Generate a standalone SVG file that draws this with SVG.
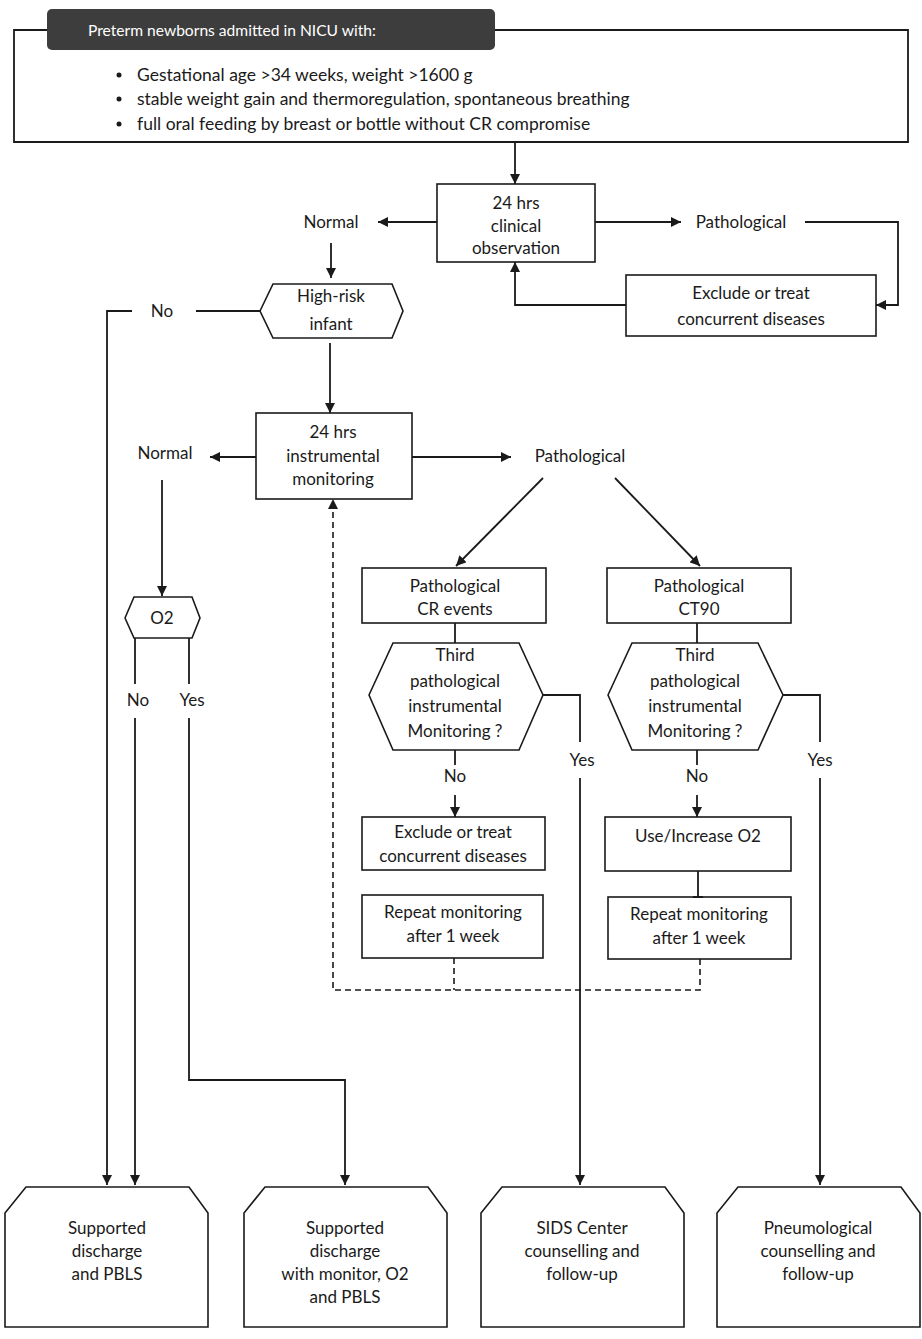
<svg xmlns="http://www.w3.org/2000/svg" width="922" height="1339" viewBox="0 0 922 1339">
<style>
text{font-family:Lato,"Liberation Sans",sans-serif;font-size:17px;fill:#1a1a1a;text-anchor:middle}
.b{fill:#fff;stroke:#1a1a1a;stroke-width:1.6}
.c{fill:none;stroke:#1a1a1a;stroke-width:1.8}
.d{fill:none;stroke:#1a1a1a;stroke-width:1.6;stroke-dasharray:6,4}
.l{text-anchor:start}
.u{font-size:17.5px}
</style>
<defs>
<marker id="a" viewBox="0 0 10 10" refX="10" refY="5" markerWidth="10" markerHeight="10" markerUnits="userSpaceOnUse" orient="auto"><path d="M0,0L10,5L0,10z" fill="#1a1a1a"/></marker>
</defs>
<rect width="922" height="1339" fill="#fff"/>
<g id="top">
<path class="c" d="M47,30H14V142H908V30H495"/>
<rect x="47" y="9" width="448" height="41" rx="5" fill="#3d3d3d"/>
<text x="88" y="36" class="l" style="fill:#fff;font-size:15.6px">Preterm newborns admitted in NICU with:</text>
<circle cx="119" cy="75" r="2.5" fill="#1a1a1a"/><circle cx="119" cy="99" r="2.5" fill="#1a1a1a"/><circle cx="119" cy="124" r="2.5" fill="#1a1a1a"/>
<text x="137" y="81" class="l u">Gestational age &gt;34 weeks, weight &gt;1600 g</text>
<text x="137" y="105" class="l u">stable weight gain and thermoregulation, spontaneous breathing</text>
<text x="137" y="130" class="l u">full oral feeding by breast or bottle without CR compromise</text>
</g>
<g id="clin"><rect class="b" x="437" y="184" width="158" height="78"/>
<text x="516" y="209">24 hrs</text><text x="516" y="232">clinical</text><text x="516" y="254">observation</text></g>
<g id="norm1"><text x="331" y="228">Normal</text></g>
<g id="path1"><text x="741" y="228">Pathological</text></g>
<g id="excl1"><rect class="b" x="626" y="275" width="250" height="61"/>
<text x="751" y="299">Exclude or treat</text><text x="751" y="325">concurrent diseases</text></g>
<g id="hr"><path class="b" d="M260,311L273,284H392L403,311L392,338H273Z"/>
<text x="331" y="302">High-risk</text><text x="331" y="330">infant</text></g>
<g id="no1"><text x="162" y="317">No</text></g>
<g id="inst"><rect class="b" x="256" y="413" width="156" height="86"/>
<text x="333" y="438">24 hrs</text><text x="333" y="462">instrumental</text><text x="333" y="485">monitoring</text></g>
<g id="norm2"><text x="165" y="459">Normal</text></g>
<g id="path2"><text x="580" y="462">Pathological</text></g>
<g id="o2"><path class="b" d="M125,618L134,597H192L200,618L192,638H134Z"/><text x="162" y="624">O2</text></g>
<g id="no2"><text x="138" y="706">No</text></g>
<g id="yes2"><text x="192" y="706">Yes</text></g>
<g id="cr"><rect class="b" x="362" y="568" width="184" height="55"/>
<text x="455" y="592">Pathological</text><text x="455" y="615">CR events</text></g>
<g id="ct"><rect class="b" x="607" y="568" width="184" height="55"/>
<text x="699" y="592">Pathological</text><text x="699" y="615">CT90</text></g>
<g id="hx1"><path class="b" d="M369,695L393,643H519L543,695L519,750H393Z"/>
<text x="455" y="661">Third</text><text x="455" y="687">pathological</text><text x="455" y="712">instrumental</text><text x="455" y="737">Monitoring ?</text></g>
<g id="hx2"><path class="b" d="M608,695L632,643H758L783,695L758,750H632Z"/>
<text x="695" y="661">Third</text><text x="695" y="687">pathological</text><text x="695" y="712">instrumental</text><text x="695" y="737">Monitoring ?</text></g>
<g id="no3"><text x="455" y="782">No</text></g>
<g id="no4"><text x="697" y="782">No</text></g>
<g id="yes3"><text x="582" y="766">Yes</text></g>
<g id="yes4"><text x="820" y="766">Yes</text></g>
<g id="excl2"><rect class="b" x="362" y="817" width="183" height="53"/>
<text x="453" y="838">Exclude or treat</text><text x="453" y="862">concurrent diseases</text></g>
<g id="rep1"><rect class="b" x="362" y="895" width="181" height="63"/>
<text x="453" y="918">Repeat monitoring</text><text x="453" y="942">after 1 week</text></g>
<g id="useo2"><rect class="b" x="605" y="817" width="186" height="54"/>
<text x="698" y="842">Use/Increase O2</text></g>
<g id="rep2"><rect class="b" x="608" y="897" width="183" height="62"/>
<text x="699" y="920">Repeat monitoring</text><text x="699" y="944">after 1 week</text></g>
<g id="out1"><path class="b" d="M5,1213L26,1187H189L208,1213V1327H5Z"/>
<text x="107" y="1234">Supported</text><text x="107" y="1257">discharge</text><text x="107" y="1280">and PBLS</text></g>
<g id="out2"><path class="b" d="M244,1213L265,1187H428L447,1213V1327H244Z"/>
<text x="345" y="1234">Supported</text><text x="345" y="1257">discharge</text><text x="345" y="1280">with monitor, O2</text><text x="345" y="1303">and PBLS</text></g>
<g id="out3"><path class="b" d="M481,1213L502,1187H665L684,1213V1327H481Z"/>
<text x="582" y="1234">SIDS Center</text><text x="582" y="1257">counselling and</text><text x="582" y="1280">follow-up</text></g>
<g id="out4"><path class="b" d="M717,1213L738,1187H901L920,1213V1327H717Z"/>
<text x="818" y="1234">Pneumological</text><text x="818" y="1257">counselling and</text><text x="818" y="1280">follow-up</text></g>
<g id="connectors">
<path class="c" marker-end="url(#a)" d="M515,143V184"/>
<path class="c" marker-end="url(#a)" d="M437,222H378"/>
<path class="c" marker-end="url(#a)" d="M595,222H681"/>
<path class="c" marker-end="url(#a)" d="M805,222H898V305H876"/>
<path class="c" marker-end="url(#a)" d="M626,305H515V262"/>
<path class="c" marker-end="url(#a)" d="M331,243V278"/>
<path class="c" d="M196,311H260"/>
<path class="c" marker-end="url(#a)" d="M132,311H107V1185"/>
<path class="c" marker-end="url(#a)" d="M330,343V413"/>
<path class="c" marker-end="url(#a)" d="M256,457H210"/>
<path class="c" marker-end="url(#a)" d="M412,457H511"/>
<path class="c" marker-end="url(#a)" d="M162,480V596"/>
<path class="c" marker-end="url(#a)" d="M543,478L456,566"/>
<path class="c" marker-end="url(#a)" d="M615,478L700,566"/>
<path class="c" d="M135,638V684"/>
<path class="c" marker-end="url(#a)" d="M135,718V1185"/>
<path class="c" d="M189,638V684"/>
<path class="c" marker-end="url(#a)" d="M189,718V1080H345V1185"/>
<path class="c" d="M455,623V643"/>
<path class="c" d="M697,623V643"/>
<path class="c" d="M455,750V765"/>
<path class="c" d="M697,750V765"/>
<path class="c" marker-end="url(#a)" d="M455,795V817"/>
<path class="c" marker-end="url(#a)" d="M697,795V817"/>
<path class="c" d="M543,695H580V742"/>
<path class="c" marker-end="url(#a)" d="M580,778V1185"/>
<path class="c" d="M783,695H820V742"/>
<path class="c" marker-end="url(#a)" d="M820,778V1185"/>
<path class="c" d="M698,871V897M693,897H703"/>
<path class="d" d="M454,958V990M700,959V990H333V507"/>
<path d="M333,499L328,509H338Z" fill="#1a1a1a"/>
</g>
</svg>
